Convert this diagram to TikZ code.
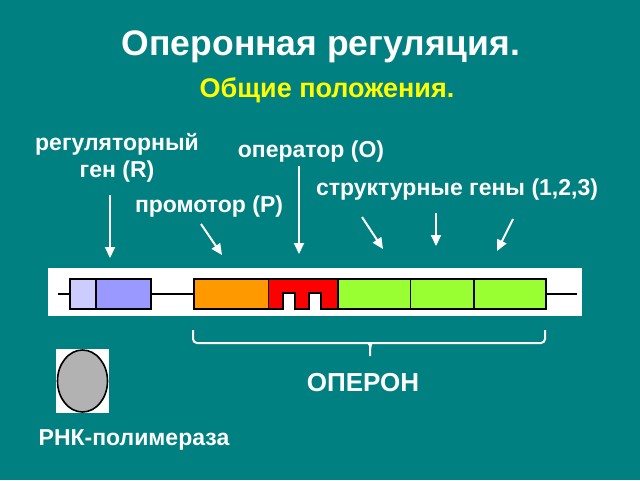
\documentclass[tikz,border=0pt]{standalone}
\usepackage{fontspec}
\setmainfont{Liberation Sans}
\usepackage{xcolor}
\usetikzlibrary{arrows.meta,shapes.geometric}

\definecolor{teal bg}{RGB}{0,128,128}
\definecolor{reglight}{RGB}{204,204,255}
\definecolor{regblue}{RGB}{153,153,255}
\definecolor{promorange}{RGB}{255,153,0}
\definecolor{genegreen}{RGB}{153,255,51}
\definecolor{polgray}{RGB}{178,178,178}
\definecolor{subyellow}{RGB}{255,255,0}

\begin{document}
\begin{tikzpicture}[x=1pt, y=-1pt,
    gene/.style={draw, line width=1.2pt, minimum height=30pt, inner sep=0pt, outer sep=0pt, anchor=west},
    label/.style={text=white, font=\bfseries\fontsize{23}{27}\selectfont, align=center, inner sep=0pt},
    arrow/.style={-{Triangle[length=11pt,width=10pt]}, white, line width=2pt}
]
    % background and strip
    \fill[teal bg] (0,0) rectangle (640,480);
    \useasboundingbox (0,0) rectangle (640,480);
    \fill[white] (48,268) rectangle (582,316);

    % title
    \node[text=white, font=\bfseries\fontsize{35.5}{38}\selectfont] (title) at (321,47) {Оперонная регуляция.};
    \node[text=subyellow, font=\bfseries\fontsize{27}{29}\selectfont] (subtitle) at (327,90) {Общие положения.};

    % genes on the DNA
    \node[gene, fill=reglight, minimum width=26pt] (rega) at (70,294) {};
    \node[gene, fill=regblue, minimum width=55pt] (regb) at (rega.east) {};
    \node[gene, fill=promorange, minimum width=74.6pt] (prom) at (194,294) {};
    \draw[line width=1.2pt, fill=red] (prom.north east) -- (338,279) -- (338,309) -- (321,309) -- (321,293)
        -- (309,293) -- (309,309) -- (295,309) -- (295,293) -- (283,293) -- (283,309) -- (prom.south east) -- cycle;
    \node[gene, fill=genegreen, minimum width=72.8pt] (sa) at (338,294) {};
    \node[gene, fill=genegreen, minimum width=63.2pt] (sb) at (sa.east) {};
    \node[gene, fill=genegreen, minimum width=72pt] (sc) at (sb.east) {};
    \coordinate (dnastart) at (58,294);
    \coordinate (dnaend) at (577,294);
    \draw[line width=1.2pt] (dnastart) -- (rega.west);
    \draw[line width=1.2pt] (regb.east) -- (prom.west);
    \draw[line width=1.2pt] (sc.east) -- (dnaend);

    % labels
    \node[label] (reglbl) at (117,158) {регуляторный\\ген (R)};
    \node[label] (oplbl) at (311,152) {оператор (O)};
    \node[label] (promlbl) at (209,207) {промотор (P)};
    \node[label] (strlbl) at (457,190) {структурные гены (1,2,3)};

    % arrows
    \coordinate (rega1) at (110,195);  \coordinate (rega2) at (110,258);
    \coordinate (proma1) at (201,224); \coordinate (proma2) at (222,255);
    \coordinate (opa1) at (299,166);   \coordinate (opa2) at (299,254);
    \coordinate (sa1) at (362,217);    \coordinate (sa2) at (383,249);
    \coordinate (sb1) at (436,213);    \coordinate (sb2) at (436,246);
    \coordinate (sc1) at (513,219);    \coordinate (sc2) at (497,251);
    \draw[arrow] (rega1) -- (rega2);
    \draw[arrow] (proma1) -- (proma2);
    \draw[arrow] (opa1) -- (opa2);
    \draw[arrow] (sa1) -- (sa2);
    \draw[arrow] (sb1) -- (sb2);
    \draw[arrow] (sc1) -- (sc2);

    % operon brace
    \coordinate (brl) at (193,330);
    \coordinate (brr) at (545,330);
    \coordinate (brtip) at (370,356);
    \draw[white, line width=2pt, rounded corners=4pt] (brl) -- (193,343) -- (365,343) to[out=0,in=90] (370,349) -- (brtip);
    \draw[white, line width=2pt, rounded corners=4pt] (brr) -- (545,343) -- (375,343) to[out=180,in=90] (370,349);
    \node[label, font=\bfseries\fontsize{26}{28}\selectfont] (operon) at (363,383) {ОПЕРОН};

    % RNA polymerase
    \node[fill=white, minimum width=53pt, minimum height=64pt, inner sep=0pt] (polbox) at (82.5,381) {};
    \node[ellipse, draw, line width=1.6pt, fill=polgray, minimum width=50pt, minimum height=62pt, inner sep=0pt] (pol) at (polbox.center) {};
    \node[label] (pollbl) at (134,440) {РНК-полимераза};
\end{tikzpicture}
\end{document}
